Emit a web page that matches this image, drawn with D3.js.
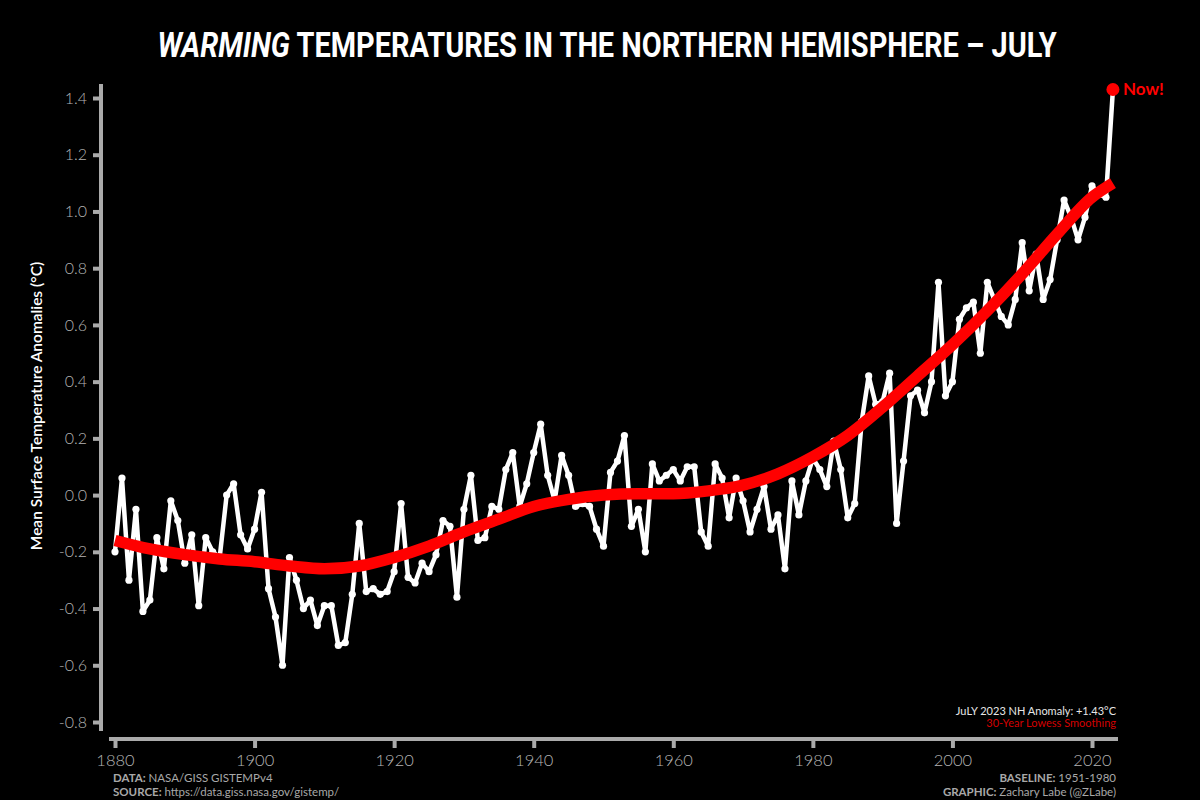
<!DOCTYPE html>
<html><head><meta charset="utf-8">
<script src="https://cdn.jsdelivr.net/npm/d3@7"></script>
<style>html,body{margin:0;padding:0;background:#000;}svg{display:block;}</style>
</head><body>
<svg id="chart" width="1200" height="800"></svg>
<script>
const years = d3.range(1880, 2024);
const anomalies = [
-0.20,0.06,-0.30,-0.05,-0.41,-0.37,-0.15,-0.26,-0.02,-0.09,
-0.24,-0.14,-0.39,-0.15,-0.20,-0.22,0.00,0.04,-0.14,-0.19,
-0.12,0.01,-0.33,-0.43,-0.60,-0.22,-0.30,-0.40,-0.37,-0.46,
-0.39,-0.39,-0.53,-0.52,-0.35,-0.10,-0.34,-0.33,-0.35,-0.34,
-0.27,-0.03,-0.29,-0.31,-0.24,-0.27,-0.21,-0.09,-0.11,-0.36,
-0.05,0.07,-0.16,-0.15,-0.04,-0.05,0.09,0.15,-0.04,0.04,
0.15,0.25,0.07,-0.02,0.14,0.07,-0.04,-0.03,-0.04,-0.12,
-0.18,0.08,0.12,0.21,-0.11,-0.05,-0.20,0.11,0.05,0.07,
0.09,0.05,0.10,0.10,-0.13,-0.18,0.11,0.06,-0.08,0.06,
-0.02,-0.13,-0.05,0.03,-0.12,-0.07,-0.26,0.05,-0.07,0.05,
0.13,0.09,0.03,0.19,0.09,-0.08,-0.03,0.26,0.42,0.32,
0.33,0.43,-0.10,0.12,0.35,0.37,0.29,0.40,0.75,0.35,
0.40,0.62,0.66,0.68,0.50,0.75,0.69,0.63,0.60,0.69,
0.89,0.72,0.85,0.69,0.76,0.90,1.04,0.98,0.90,0.98,
1.09,1.06,1.05,1.43];
const smoothYears = [1880,1885,1890,1895,1900,1905,1910,1915,1920,1925,1930,1935,1940,1945,1950,1955,1960,1965,1970,1975,1980,1985,1990,1995,2000,2005,2010,2015,2020,2023];
const smoothValues = [-0.16,-0.19,-0.21,-0.225,-0.235,-0.25,-0.26,-0.25,-0.22,-0.18,-0.13,-0.085,-0.04,-0.015,0.0,0.005,0.005,0.015,0.035,0.075,0.135,0.21,0.31,0.42,0.53,0.65,0.78,0.92,1.05,1.10];
const yTicks = [-0.8,-0.6,-0.4,-0.2,0.0,0.2,0.4,0.6,0.8,1.0,1.2,1.4];
const xTicks = [1880,1900,1920,1940,1960,1980,2000,2020];

const svg = d3.select("#chart");
const grey = "#aaaaaa";
const labelGrey = "#b4b4b4";
const font = "Lato, 'DejaVu Sans', sans-serif";

const x = d3.scaleLinear().domain([1880, 2020]).range([115, 1092]);
const y = d3.scaleLinear().domain([-0.8, 1.4]).range([722, 98]);

svg.append("rect").attr("width",1200).attr("height",800).attr("fill","#000");

// title (single text, horizontally scaled to the reference width)
const titleG = svg.append("g");
const title = titleG.append("text").attr("x", 0).attr("y", 0).attr("text-anchor","middle")
  .attr("fill","#fff").attr("font-family","Roboto, sans-serif").attr("font-weight",700)
  .attr("font-size",35);
title.append("tspan").attr("font-style","italic").text("WARMING");
title.append("tspan").text(" TEMPERATURES IN THE NORTHERN HEMISPHERE \u2013 JULY");
const tw = title.node().getBBox().width;
titleG.attr("transform", `translate(607,57) scale(${900/tw},1)`);

// y axis
const yAxis = d3.axisLeft(y).tickValues(yTicks).tickFormat(d3.format(".1f")).tickSize(8).tickPadding(6);
const gy = svg.append("g").attr("transform","translate(101,0)").call(yAxis);
gy.select(".domain").remove();
gy.append("line").attr("x1",0).attr("x2",0).attr("y1",84).attr("y2",731).attr("stroke",grey).attr("stroke-width",4);
gy.selectAll(".tick line").attr("stroke",grey).attr("stroke-width",4);
gy.selectAll(".tick text").attr("fill",labelGrey).attr("font-family",font).attr("font-size",16).attr("font-weight",300)
  .text(d => d3.format(".1f")(d).replace("\u2212","-"));

// x axis
const xAxis = d3.axisBottom(x).tickValues(xTicks).tickFormat(d3.format("d")).tickSize(9).tickPadding(6);
const gx = svg.append("g").attr("transform","translate(0,739)").call(xAxis);
gx.select(".domain").remove();
gx.append("line").attr("x1",109).attr("x2",1118).attr("y1",0).attr("y2",0).attr("stroke",grey).attr("stroke-width",4);
gx.selectAll(".tick line").attr("stroke",grey).attr("stroke-width",4);
gx.selectAll(".tick text").attr("fill",labelGrey).attr("font-family",font).attr("font-size",16.5).attr("font-weight",300);

// y label
svg.append("text").attr("transform","translate(42,406) rotate(-90)").attr("text-anchor","middle")
  .attr("fill","#fff").attr("font-family",font).attr("font-weight",600).attr("font-size",15.5)
  .text("Mean Surface Temperature Anomalies (\u00b0C)");

// data line
const data = years.map((yr,i)=>({year:yr, value:anomalies[i]}));
const line = d3.line().x(d=>x(d.year)).y(d=>y(d.value));
svg.append("path").datum(data).attr("d",line).attr("fill","none").attr("stroke","#fff")
  .attr("stroke-width",4.5).attr("stroke-linejoin","round");
svg.append("g").selectAll("circle").data(data.slice(0,-1)).join("circle")
  .attr("cx",d=>x(d.year)).attr("cy",d=>y(d.value)).attr("r",3.6).attr("fill","#fff");

// smoothing
const smooth = smoothYears.map((yr,i)=>({year:yr, value:smoothValues[i]}));
const sline = d3.line().x(d=>x(d.year)).y(d=>y(d.value)).curve(d3.curveMonotoneX);
svg.append("path").datum(smooth).attr("d",sline).attr("fill","none").attr("stroke","#ff0000")
  .attr("stroke-width",11.5).attr("stroke-linejoin","round");

// Now marker
const last = data[data.length-1];
svg.append("circle").attr("cx",x(last.year)).attr("cy",y(last.value)).attr("r",6.5).attr("fill","#ff0000");
svg.append("text").attr("x",x(last.year)+10).attr("y",y(last.value)+6).attr("fill","#ff0000")
  .attr("font-family",font).attr("font-weight",700).attr("font-size",17).text("Now!");

// annotation
svg.append("text").attr("x",1116).attr("y",715).attr("text-anchor","end").attr("fill","#e6e6e6")
  .attr("font-family",font).attr("font-size",11).text("JuLY 2023 NH Anomaly: +1.43\u00b0C");
svg.append("text").attr("x",1116).attr("y",727).attr("text-anchor","end").attr("fill","#d40000")
  .attr("font-family",font).attr("font-size",11).text("30-Year Lowess Smoothing");

// footer
function footer(xp, yp, anchor, bold, rest){
  const t = svg.append("text").attr("x",xp).attr("y",yp).attr("text-anchor",anchor).attr("fill","#a8a8a8")
    .attr("font-family",font).attr("font-size",11.5);
  t.append("tspan").attr("font-weight",700).text(bold);
  t.append("tspan").text(rest);
}
footer(113,782,"start","DATA: ","NASA/GISS GISTEMPv4");
footer(113,796,"start","SOURCE: ","https://data.giss.nasa.gov/gistemp/");
footer(1116,782,"end","BASELINE: ","1951-1980");
footer(1116,796,"end","GRAPHIC: ","Zachary Labe (@ZLabe)");
</script>
</body></html>
